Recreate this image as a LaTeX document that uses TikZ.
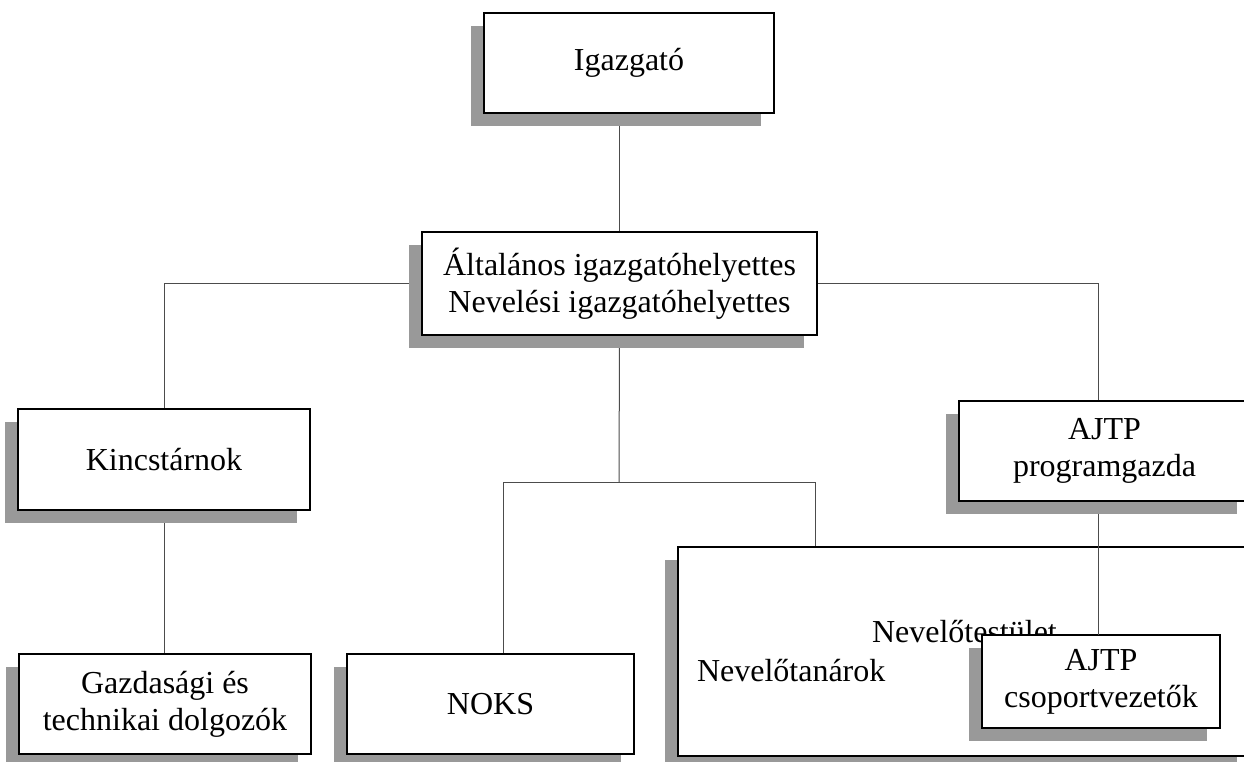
\documentclass[tikz,border=0pt]{standalone}
\usepackage{fontspec}
\setmainfont{Liberation Serif}
\usetikzlibrary{shadows,backgrounds}
\begin{document}
\begin{tikzpicture}[x=1pt,y=-1pt,
  orgbox/.style={draw=black, line width=2pt, fill=white, inner sep=0pt, outer sep=0pt,
    align=center, font=\fontsize{32}{37}\selectfont,
    drop shadow={shadow xshift=-13pt, shadow yshift=-13pt, fill=black!40, opacity=1}},
  conn/.style={draw=black!70, line width=1pt},
  freetext/.style={font=\fontsize{32}{37}\selectfont, inner sep=0pt, outer sep=0pt}]
\path[use as bounding box] (0,0) rectangle (1244,761);
\clip (0,0) rectangle (1244,761);

\node[orgbox, minimum width=290pt, minimum height=100pt] (ig) at (629,63) {Igazgató};
\node[orgbox, minimum width=395pt, minimum height=103pt] (main) at (619.5,283.5)
  {Általános igazgatóhelyettes\\Nevelési igazgatóhelyettes};
\node[orgbox, minimum width=292pt, minimum height=101pt] (kinc) at (164,459.5) {Kincstárnok};
\node[orgbox, minimum width=292pt, minimum height=100pt] (gazd) at (165,704) {Gazdasági és\\technikai dolgozók};
\node[orgbox, minimum width=287pt, minimum height=100pt] (noks) at (490.5,704) {NOKS};
\node[orgbox, minimum width=572pt, minimum height=209pt] (nev) at (964,651.5) {};
\node[freetext, anchor=base west] (nevt) at (872,642) {Nevelőtestület};
\node[freetext, anchor=base west] (nevta) at (697,681) {Nevelőtanárok};
\node[orgbox, minimum width=291pt, minimum height=100pt] (prog) at (1104.5,451) {AJTP\\programgazda};
\node[orgbox, minimum width=238pt, minimum height=93pt] (csop) at (1101,681.5) {AJTP\\csoportvezetők};

\coordinate (split) at (619,482);
\coordinate (nl) at (503,482);
\coordinate (nr) at (815,482);

\begin{scope}[on background layer]
  \draw[conn] (main.north |- ig.south) -- (main.north);
  \draw[conn] (main.west) -| (kinc.north);
  \draw[conn] (main.east) -| ([xshift=-6.5pt]prog.north);
  \draw[conn] (kinc.south) -- (kinc.south |- gazd.north);
  \draw[conn] (main.south) -- (split);
  \draw[conn] (nl) -- (nr);
  \draw[conn] (nl) -- (nl |- noks.north);
  \draw[conn] (nr) -- (nr |- nev.north);
\end{scope}
\draw[conn] ([xshift=-6.5pt,yshift=-13pt]prog.south) -- ([xshift=-6.5pt]prog.south |- csop.north);
\end{tikzpicture}
\end{document}
